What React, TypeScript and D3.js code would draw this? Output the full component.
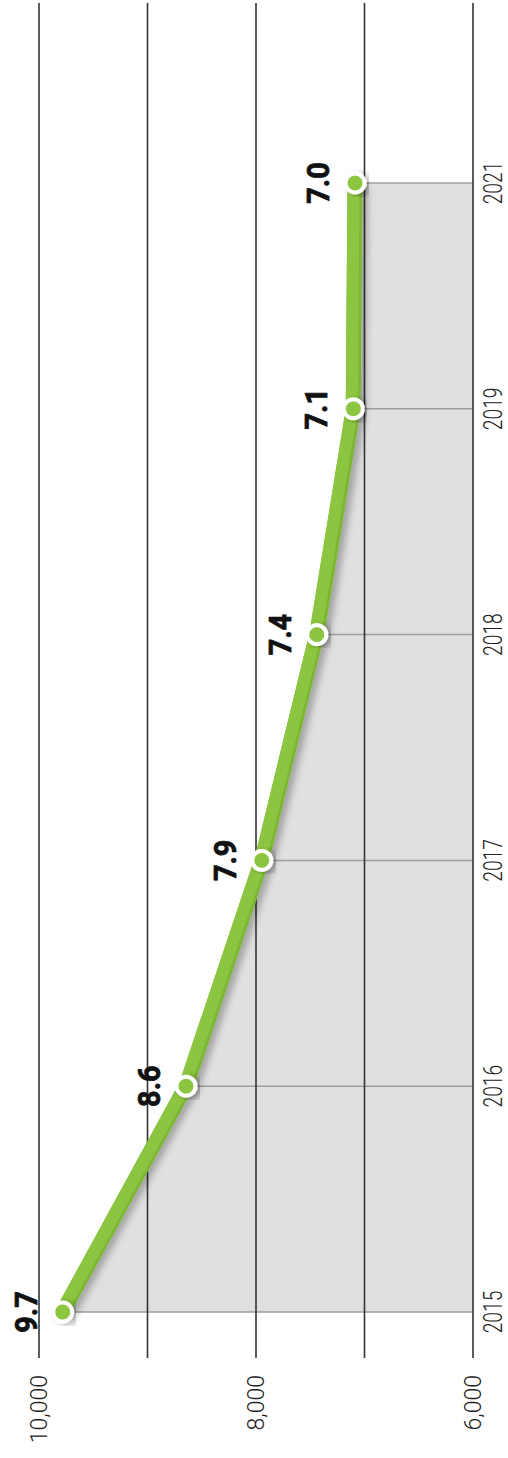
import * as d3 from 'd3'

// data (values in units, labels as printed)
const YEARS = ['2015', '2016', '2017', '2018', '2019', '2021']
const VALUES = [9782, 8645, 7947, 7440, 7103, 7087]
const VALUE_LABELS = ['9.7', '8.6', '7.9', '7.4', '7.1', '7.0']
const GRID_TICKS = [6000, 7000, 8000, 9000, 10000]
const AXIS_TICKS = [6000, 8000, 10000]

// chart is drawn in an unrotated frame, then turned -90deg
const PAGE_W = 508
const PAGE_H = 1458

const GREEN = '#8cc540'
const GREEN_DARK = '#7db536'

export default function App() {
  const x = d3.scalePoint<string>().domain(YEARS).range([146, 1275])
  const y = d3.scaleLinear().domain([6000, 10000]).range([473, 39])
  const base = y(6000)

  const rows = YEARS.map((yr, i) => ({ yr, v: VALUES[i], label: VALUE_LABELS[i] }))

  const area = d3.area<typeof rows[0]>()
    .x(d => x(d.yr)!)
    .y0(base)
    .y1(d => y(d.v))

  const line = d3.line<typeof rows[0]>()
    .x(d => x(d.yr)!)
    .y(d => y(d.v))

  const fmt = d3.format(',')
  const font = 'Roboto, "Noto Sans", sans-serif'

  return (
    <svg
      width={PAGE_W}
      height={PAGE_H}
      style={{ position: 'absolute', left: 0, top: 0, display: 'block' }}
    >
      <defs>
        <filter id="shadow" x="-20%" y="-20%" width="140%" height="140%">
          <feDropShadow dx={-2} dy={5} stdDeviation={3.5} floodColor="#000" floodOpacity={0.28} />
        </filter>
      </defs>
      <rect width={PAGE_W} height={PAGE_H} fill="#fff" />
      <g transform={`translate(0,${PAGE_H}) rotate(-90)`}>
        {/* shaded area under the line */}
        <path d={area(rows)!} fill="#e0e0e0" />

        {/* year guide lines inside the area */}
        {rows.map(d => (
          <line key={d.yr} x1={x(d.yr)} x2={x(d.yr)} y1={y(d.v)} y2={base}
            stroke="#9e9e9e" strokeWidth={1.5} />
        ))}

        {/* value gridlines */}
        {GRID_TICKS.map(t => (
          <line key={t} x1={100} x2={1455} y1={y(t)} y2={y(t)} stroke="#333" strokeWidth={1.6} />
        ))}

        {/* the line */}
        <g filter="url(#shadow)">
          <path d={line(rows)!} fill="none" stroke={GREEN_DARK} strokeWidth={15} strokeLinejoin="round" />
        </g>
        <path d={line(rows)!} fill="none" stroke={GREEN} strokeWidth={12}
          strokeLinejoin="round" transform="translate(0,-1.5)" />

        {/* points */}
        {rows.map(d => (
          <circle key={d.yr} cx={x(d.yr)} cy={y(d.v)} r={9.5} fill={GREEN}
            stroke="#fff" strokeWidth={4} filter="url(#shadow)" />
        ))}

        {/* value labels */}
        {rows.map(d => (
          <text key={d.yr} transform={`translate(${x(d.yr)},${y(d.v) - 26}) scale(0.9,1)`}
            textAnchor="middle" fontFamily={font} fontWeight={700} fontSize={32}
            fill="#111" stroke="#111" strokeWidth={0.8}>
            {d.label}
          </text>
        ))}

        {/* year axis labels */}
        {YEARS.map(yr => (
          <text key={yr} transform={`translate(${x(yr)},502) scale(0.77,1)`}
            textAnchor="middle" fontFamily={font} fontWeight={300} fontSize={25} fill="#222">
            {yr}
          </text>
        ))}

        {/* value axis labels */}
        {AXIS_TICKS.map(t => (
          <text key={t} x={83} y={y(t) + 8} textAnchor="end"
            fontFamily={font} fontWeight={300} fontSize={23} fill="#222">
            {fmt(t)}
          </text>
        ))}
      </g>
    </svg>
  )
}
